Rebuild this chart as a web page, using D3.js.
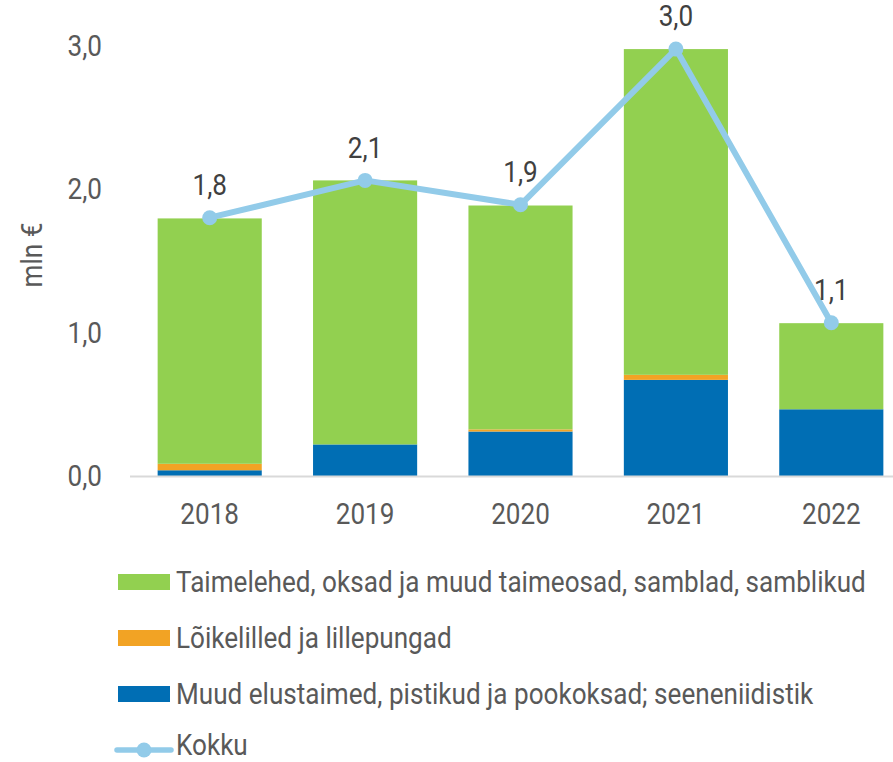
<!DOCTYPE html>
<html><head><meta charset="utf-8">
<script src="https://cdn.jsdelivr.net/npm/d3@7"></script>
<style>body{margin:0;background:#fff}svg{display:block}text{font-family:Roboto,"Noto Sans",sans-serif}</style>
</head><body>
<svg id="c" width="893" height="762"></svg>
<script>
const years = ["2018","2019","2020","2021","2022"];
const seriesNames = ["Muud elustaimed, pistikud ja pookoksad; seeneniidistik","Lõikelilled ja lillepungad","Taimelehed, oksad ja muud taimeosad, samblad, samblikud"];
const blueVals = [0.04, 0.22, 0.31, 0.67, 0.465];
const orangeVals = [0.045, 0.0, 0.015, 0.035, 0.0];
const greenVals = [1.71, 1.84, 1.56, 2.27, 0.60];
const totalVals = [1.8, 2.06, 1.89, 2.975, 1.068];
const totalLabels = ["1,8","2,1","1,9","3,0","1,1"];
const yTicks = [0, 1, 2, 3];
const colors = {blue:"#006EB4", orange:"#F2A324", green:"#92D050", line:"#92CBE9"};
const FS = 29.5, SX = 0.885;

const svg = d3.select("#c");
const x = d3.scaleBand().domain(years).range([132, 909]).paddingInner(0.33).paddingOuter(0.165);
const y = d3.scaleLinear().domain([0, 3]).range([476, 45.5]);
const fmt = d => d.toFixed(1).replace(".", ",");

// condensed text helper
function ctext(sel, tx, ty, anchor, fill, txt, rot) {
  const g = sel.append("g").attr("transform", d => `translate(${tx(d)},${ty(d)})${rot ? " rotate(" + rot + ")" : ""} scale(${SX},1)`);
  g.append("text").attr("dy", "0.35em").attr("text-anchor", anchor)
    .attr("font-size", FS).attr("fill", fill).text(txt);
  return g;
}

// y axis labels
ctext(svg.append("g").selectAll("g").data(yTicks).join("g"), () => 102, d => y(d), "end", "#595959", fmt);
ctext(svg.append("g").datum(0), () => 32, () => 255, "middle", "#595959", () => "mln €", -90);

// stacked bars
const rows = years.map((yr, i) => ({year: yr, blue: blueVals[i], orange: orangeVals[i], green: greenVals[i]}));
const stack = d3.stack().keys(["blue","orange","green"])(rows);
svg.append("g").selectAll("g").data(stack).join("g").attr("fill", s => colors[s.key])
  .selectAll("rect").data(s => s).join("rect")
  .attr("x", d => x(d.data.year)).attr("width", x.bandwidth())
  .attr("y", d => y(d[1])).attr("height", d => y(d[0]) - y(d[1]));

// x axis
svg.append("line").attr("x1", 130).attr("x2", 893).attr("y1", 476.5).attr("y2", 476.5)
  .attr("stroke", "#d9d9d9").attr("stroke-width", 2);
const cx = d => x(d) + x.bandwidth()/2;
ctext(svg.append("g").selectAll("g").data(years).join("g"), cx, () => 514, "middle", "#595959", d => d);

// line
svg.append("path").datum(years)
  .attr("d", d3.line().x(cx).y((d, i) => y(totalVals[i])))
  .attr("fill", "none").attr("stroke", colors.line).attr("stroke-width", 6).attr("stroke-linejoin", "round");
svg.append("g").selectAll("circle").data(years).join("circle")
  .attr("cx", cx).attr("cy", (d, i) => y(totalVals[i])).attr("r", 7.5).attr("fill", colors.line);
const lblData = years.map((yr, i) => ({yr, v: totalVals[i], t: totalLabels[i]}));
ctext(svg.append("g").selectAll("g").data(lblData).join("g"), d => cx(d.yr), d => y(d.v) - 33, "middle", "#404040", d => d.t);

// legend
const leg = [
  {name: seriesNames[2], c: colors.green, t: "rect"},
  {name: seriesNames[1], c: colors.orange, t: "rect"},
  {name: seriesNames[0], c: colors.blue, t: "rect"},
  {name: "Kokku", c: colors.line, t: "line"}
];
const lg = svg.append("g").selectAll("g").data(leg).join("g")
  .attr("transform", (d, i) => `translate(0,${582 + i * 56})`);
lg.filter(d => d.t === "rect").append("rect").attr("x", 118).attr("y", -8).attr("width", 52).attr("height", 16).attr("fill", d => d.c);
lg.filter(d => d.t === "line").append("line").attr("x1", 117).attr("x2", 171).attr("y1", 0).attr("y2", 0)
  .attr("stroke", d => d.c).attr("stroke-width", 5.5).attr("stroke-linecap", "round");
lg.filter(d => d.t === "line").append("circle").attr("cx", 144).attr("cy", 0).attr("r", 7.5).attr("fill", d => d.c);
ctext(lg, () => 176, (d, i) => (d.t === "line" ? -5 : 0), "start", "#595959", d => d.name);
</script>
</body></html>
